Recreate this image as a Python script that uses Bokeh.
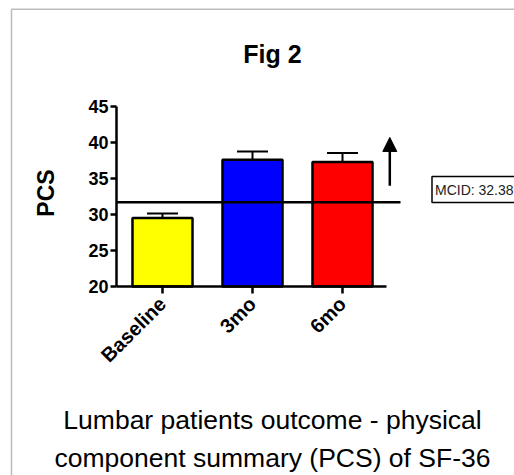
import math
from bokeh.plotting import figure
from bokeh.models import (Range1d, FixedTicker, Label, Arrow, NormalHead,
                          ColumnDataSource, PolyAnnotation)
from bokeh.embed import file_html
from bokeh.resources import INLINE

# ---- data ----
categories = ["Baseline", "3mo", "6mo"]
means = [29.5, 37.6, 37.3]
err_upper = [30.15, 38.75, 38.55]
bar_colors = ["#FFFF00", "#0000FF", "#FF0000"]
y_ticks = [20, 25, 30, 35, 40, 45]
mcid_line = 31.7
mcid_text = "MCID: 32.38"
arrow_from, arrow_to = 34.0, 40.7
title_text = "Fig 2"
y_label = "PCS"
caption_1 = "Lumbar patients outcome - physical"
caption_2 = "component summary (PCS) of SF-36"

# ---- geometry (pixel scale) ----
W, H = 514, 475
px_x = 90.0                 # px per category unit
px_y = 7.2                  # px per PCS unit

def X(page_x):
    return (page_x - 162) / px_x

def Y(page_y):
    return 20 + (286 - page_y) / px_y

p = figure(width=W, height=H, output_backend="svg", toolbar_location=None,
           x_range=Range1d(X(0), X(W)), y_range=Range1d(Y(H), Y(0)),
           min_border_left=0, min_border_bottom=0, min_border_top=0,
           min_border_right=0, tools="")
p.outline_line_color = None
p.xgrid.visible = False
p.ygrid.visible = False
p.background_fill_color = "white"
p.border_fill_color = "white"

xs = list(range(len(categories)))
src = ColumnDataSource(dict(x=xs, top=means, up=err_upper, color=bar_colors,
                            cl=[v - 0.172 for v in xs], cr=[v + 0.172 for v in xs]))

# error bars (upper only)
p.segment(x0="x", y0="top", x1="x", y1="up", source=src, line_color="black", line_width=2)
p.segment(x0="cl", y0="up", x1="cr", y1="up", source=src, line_color="black", line_width=2)
# bars
p.vbar(x="x", top="top", bottom=20, width=0.667, source=src, fill_color="color",
       line_color="black", line_width=2.5)

# MCID line
p.segment(x0=[X(116)], y0=[mcid_line], x1=[X(400)], y1=[mcid_line], line_color="black", line_width=2.5)

# arrow
p.add_layout(Arrow(end=NormalHead(size=14, fill_color="black", line_color="black"),
                   x_start=X(389.3), y_start=arrow_from, x_end=X(389.3), y_end=arrow_to,
                   line_width=2.5, line_color="black"))

# axes, pinned inside the frame
ya = p.yaxis[0]
ya.fixed_location = X(116)
ya.ticker = FixedTicker(ticks=y_ticks)
ya.bounds = (20, 45)
ya.minor_tick_line_color = None
ya.major_tick_out = 6
ya.major_tick_in = 0
ya.major_tick_line_width = 2.5
ya.axis_line_width = 2.5
ya.major_label_text_font = "Liberation Sans"
ya.major_label_text_font_style = "bold"
ya.major_label_text_font_size = "18px"
ya.major_label_text_color = "black"
ya.major_label_standoff = 2

xa = p.xaxis[0]
xa.fixed_location = 20
xa.ticker = FixedTicker(ticks=xs)
xa.major_label_overrides = {i: c for i, c in zip(xs, categories)}
xa.bounds = (X(116), X(386))
xa.minor_tick_line_color = None
xa.major_tick_out = 7
xa.major_tick_in = 0
xa.major_tick_line_width = 2.5
xa.axis_line_width = 2.5
xa.major_label_orientation = math.pi / 4
xa.major_label_text_font = "Liberation Sans"
xa.major_label_text_font_style = "bold"
xa.major_label_text_font_size = "20px"
xa.major_label_text_color = "black"
xa.major_label_standoff = 7

# texts
p.add_layout(Label(x=X(272), y=Y(53.5), text=title_text, text_align="center",
                   text_baseline="alphabetic", text_font="Liberation Sans",
                   text_font_style="bold", text_font_size="25px", text_color="black"))
p.add_layout(Label(x=X(45.5), y=Y(192.5), text=y_label, angle=math.pi / 2,
                   text_align="center", text_baseline="middle", text_font="Liberation Sans",
                   text_font_style="bold", text_font_size="23px", text_color="black"))
p.add_layout(Label(x=X(431.5), y=Y(189), text=mcid_text, text_align="left",
                   text_baseline="middle", text_font="Liberation Sans",
                   text_font_size="14px", text_color="#222222",
                   border_line_color="black", border_line_width=1.5,
                   padding=dict(left=3, right=2, top=5, bottom=5),
                   background_fill_color="white"))
p.add_layout(Label(x=X(272), y=Y(419.5), text=caption_1, text_align="center",
                   text_baseline="alphabetic", text_font="Liberation Sans",
                   text_font_size="26.5px", text_color="black"))
p.add_layout(Label(x=X(272), y=Y(457.5), text=caption_2, text_align="center",
                   text_baseline="alphabetic", text_font="Liberation Sans",
                   text_font_size="26.5px", text_color="black"))

# thin outer frame of the original figure (left and top edges)
p.add_layout(PolyAnnotation(xs=[X(11), X(530), X(530), X(11)],
                            ys=[Y(8.8), Y(8.8), Y(500), Y(500)],
                            fill_color=None, line_color="#222222", line_width=1.5))

open("out.html", "w").write(file_html(p, INLINE))
